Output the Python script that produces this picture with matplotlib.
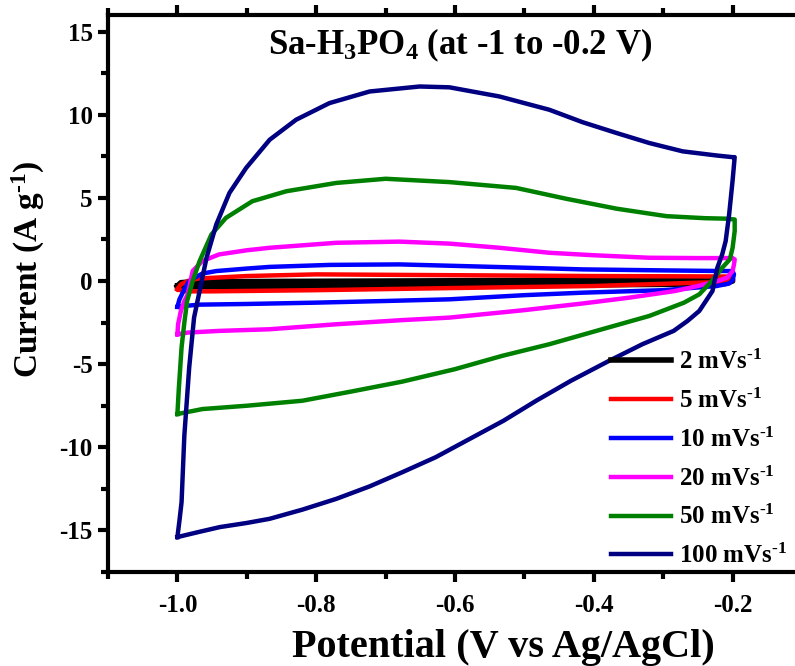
import numpy as np
import matplotlib
matplotlib.use('Agg')
import matplotlib.pyplot as plt
from matplotlib.ticker import MultipleLocator

plt.rcParams['font.family'] = ['Liberation Serif', 'DejaVu Serif']
plt.rcParams['font.weight'] = 'bold'
plt.rcParams['mathtext.fontset'] = 'custom'
plt.rcParams['mathtext.rm'] = 'Liberation Serif:bold'
plt.rcParams['mathtext.bf'] = 'Liberation Serif:bold'
plt.rcParams['mathtext.it'] = 'Liberation Serif:bold'
plt.rcParams['mathtext.default'] = 'bf'

# scan rates (legend)
labels = [r'2 mVs$^{\text{-1}}$', r'5 mVs$^{\text{-1}}$', r'10 mVs$^{\text{-1}}$',
          r'20 mVs$^{\text{-1}}$', r'50 mVs$^{\text{-1}}$', r'100 mVs$^{\text{-1}}$']
colors = ['black', 'red', 'blue', 'magenta', 'green', 'navy']

# 2 mV/s
v2 = [-1.0, -0.995, -0.98, -0.9, -0.7, -0.5, -0.3, -0.21, -0.2, -0.2, -0.21, -0.3, -0.5, -0.7, -0.9, -0.98, -1.0]
i2 = [-0.3, -0.1, -0.05, -0.03, 0.0, 0.03, 0.08, 0.1, 0.1, 0.0, -0.15, -0.2, -0.25, -0.3, -0.33, -0.35, -0.3]

# 5 mV/s
v5 = [-1.0, -0.995, -0.985, -0.97, -0.9, -0.8, -0.6, -0.4, -0.25, -0.205, -0.2, -0.2, -0.21, -0.25, -0.4, -0.6, -0.8, -0.95, -0.99, -1.0]
i5 = [-0.5, -0.2, 0.0, 0.15, 0.3, 0.4, 0.35, 0.3, 0.28, 0.27, 0.22, 0.05, -0.05, -0.1, -0.3, -0.42, -0.55, -0.62, -0.62, -0.5]

# 10 mV/s
v10 = [-1.0, -0.997, -0.99, -0.983, -0.975, -0.964, -0.944, -0.9, -0.867, -0.78, -0.68, -0.608, -0.5, -0.416, -0.3,
       -0.21, -0.2, -0.198, -0.2, -0.205, -0.223, -0.3, -0.416, -0.5, -0.608, -0.7, -0.8, -0.9, -0.968, -0.99, -1.0]
i10 = [-1.55, -1.1, -0.5, 0.0, 0.2, 0.45, 0.6, 0.75, 0.85, 0.97, 1.0, 0.92, 0.8, 0.7, 0.64,
       0.6, 0.6, 0.4, 0.05, -0.15, -0.3, -0.55, -0.7, -0.85, -1.1, -1.2, -1.3, -1.38, -1.42, -1.5, -1.55]

# 20 mV/s
v20 = [-1.0, -0.999, -0.995, -0.99, -0.985, -0.978, -0.964, -0.94, -0.9, -0.867, -0.771, -0.68, -0.608, -0.536,
       -0.464, -0.4, -0.32, -0.25, -0.2, -0.197, -0.198, -0.2, -0.208, -0.222, -0.25, -0.283, -0.349, -0.416,
       -0.5, -0.608, -0.676, -0.771, -0.867, -0.94, -0.985, -1.0]
i20 = [-3.2, -2.6, -1.8, -1.2, -0.8, 0.6, 1.2, 1.6, 1.85, 2.0, 2.3, 2.37, 2.25, 2.0,
       1.7, 1.55, 1.4, 1.38, 1.38, 1.3, 1.0, 0.6, 0.2, 0.0, -0.3, -0.6, -1.0, -1.35,
       -1.75, -2.2, -2.35, -2.6, -2.9, -3.0, -3.1, -3.2]

# 50 mV/s
v50 = [-1.0, -0.998, -0.994, -0.99, -0.986, -0.978, -0.968, -0.951, -0.93, -0.892, -0.843, -0.771, -0.7, -0.608,
       -0.512, -0.44, -0.367, -0.295, -0.24, -0.209, -0.197, -0.197, -0.2, -0.204, -0.215, -0.23, -0.248, -0.27,
       -0.32, -0.388, -0.464, -0.532, -0.6, -0.676, -0.75, -0.82, -0.9, -0.964, -1.0]
i50 = [-8.0, -6.5, -4.0, -2.5, -1.2, 0.0, 1.2, 2.8, 3.8, 4.8, 5.4, 5.9, 6.15, 5.95,
       5.6, 4.95, 4.35, 3.9, 3.78, 3.75, 3.7, 3.0, 2.0, 1.3, 0.8, 0.0, -0.8, -1.3,
       -2.1, -2.9, -3.8, -4.5, -5.3, -6.05, -6.65, -7.2, -7.5, -7.7, -8.0]

# 100 mV/s
v100 = [-1.0, -0.997, -0.994, -0.99, -0.983, -0.976, -0.971, -0.965, -0.958, -0.944, -0.925, -0.901, -0.867,
        -0.829, -0.781, -0.723, -0.651, -0.608, -0.536, -0.464, -0.416, -0.367, -0.32, -0.272, -0.223, -0.2,
        -0.197, -0.2, -0.205, -0.21, -0.215, -0.222, -0.229, -0.248, -0.265, -0.285, -0.33, -0.378,
        -0.433, -0.483, -0.53, -0.579, -0.628, -0.676, -0.723, -0.771, -0.82, -0.867, -0.9, -0.939, -0.97, -1.0]
i100 = [-15.4, -14.4, -13.3, -9.3, -5.2, -2.2, -1.2, 0.0, 1.4, 3.4, 5.3, 6.8, 8.5,
        9.7, 10.7, 11.4, 11.7, 11.65, 11.1, 10.3, 9.55, 8.9, 8.3, 7.8, 7.55, 7.45,
        7.45, 6.05, 4.0, 2.4, 1.6, 0.8, -0.6, -1.8, -2.4, -3.0, -3.8, -4.8,
        -6.0, -7.2, -8.4, -9.5, -10.6, -11.5, -12.35, -13.1, -13.75, -14.3, -14.55, -14.8, -15.1, -15.4]

xs = [v2, v5, v10, v20, v50, v100]
ys = [i2, i5, i10, i20, i50, i100]
widths = [4.0, 3.2, 3.2, 3.2, 3.2, 3.2]

fig = plt.figure(figsize=(7.95, 6.66), dpi=100)
ax = fig.add_axes([108/795., 94/666., 694/795., 557/666.])

for x, y, c, lab, w in zip(xs, ys, colors, labels, widths):
    ax.plot(x, y, color=c, lw=w, label=lab, solid_joinstyle='round')

ax.set_xlim(-1.1, -0.1)
ax.set_ylim(-17.5, 16)
ax.xaxis.set_minor_locator(MultipleLocator(0.1))
ax.yaxis.set_minor_locator(MultipleLocator(2.5))
ax.set_xticks([-1.0, -0.8, -0.6, -0.4, -0.2])
ax.set_xticklabels(['-1.0', '-0.8', '-0.6', '-0.4', '-0.2'])
ax.set_yticks([-15, -10, -5, 0, 5, 10, 15])
ax.set_yticklabels(['-15', '-10', '-5', '0', '5', '10', '15'])

for s in ax.spines.values():
    s.set_linewidth(3)
ax.tick_params(which='major', direction='out', length=7, width=3, labelsize=18, pad=4)
ax.tick_params(which='minor', direction='out', length=5, width=3)
ax.tick_params(axis='x', which='major', pad=9)
ax.tick_params(axis='x', which='both', top=True, bottom=True)

ax.set_xlabel('Potential (V vs Ag/AgCl)', fontsize=29, fontweight='bold')
ax.xaxis.set_label_coords(0.569, -0.102)
ax.set_ylabel(r'Current (A g$^{\text{-1}}$)', fontsize=24, fontweight='bold')
ax.yaxis.set_label_coords(-0.088, 0.544)

ax.text(0.508, 0.945, 'Sa-H$_3$PO$_4$ (at -1 to -0.2 V)', transform=ax.transAxes,
        ha='center', va='center', fontsize=25, fontweight='bold')

leg = ax.legend(loc='lower right', bbox_to_anchor=(1.0, -0.02), frameon=False,
                fontsize=18, handlelength=2.4, handletextpad=0.32, labelspacing=0.58,
                borderaxespad=0.2)

fig.savefig('out.png', dpi=100)
